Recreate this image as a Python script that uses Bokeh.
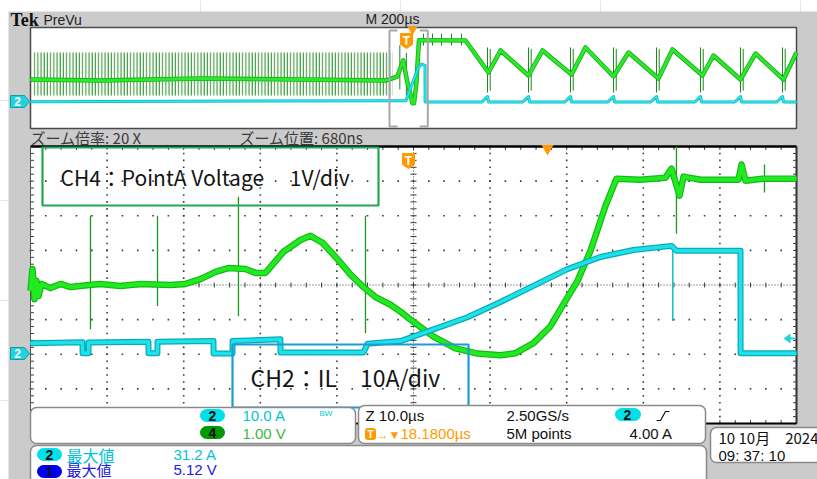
import numpy as np
from bokeh.plotting import figure
from bokeh.models import Range1d, BoxAnnotation
from bokeh.core.properties import value
from bokeh.embed import file_html
from bokeh.resources import INLINE

# ===================== data =====================
# Zoomed main window (Z 10.0 us/div): time in us from the left graticule edge
CH4_T = [0.0, 0.26, 0.52, 0.78, 1.04, 1.44, 2.61, 3.92, 5.22, 7.70, 9.14, 11.75,
         14.36, 18.28, 20.23, 22.19, 24.15, 25.85, 28.07, 29.37, 30.68, 33.03,
         35.25, 36.55, 38.12, 39.82, 41.78, 43.47, 45.04, 47.00, 48.30, 49.61,
         52.61, 55.48, 58.36, 61.36, 63.32, 65.67, 67.89, 69.58, 71.41, 73.11,
         75.07, 76.50, 79.63, 82.90, 83.68, 84.07, 84.73, 85.25, 87.47, 92.43,
         92.82, 93.34, 95.56, 100.0]
# CH4 point-A voltage, 1 V/div, in divisions from the centre line
CH4_DIV = [-0.17, 0.46, -0.41, 0.12, -0.32, 0.03, -0.09, 0.03, -0.06, 0.0, 0.03, -0.03,
           0.03, 0.0, 0.03, 0.17, 0.38, 0.49, 0.46, 0.35, 0.35, 0.96,
           1.30, 1.42, 1.22, 0.81, 0.30, -0.06, -0.35, -0.57, -0.77, -1.00,
           -1.49, -1.83, -1.98, -2.03, -1.97, -1.68, -1.19, -0.55, 0.12, 0.99,
           2.29, 3.07, 3.04, 3.10, 3.36, 3.07, 2.58, 3.13, 3.04, 3.04,
           3.48, 3.01, 3.07, 3.07]
CH4_SPIKE_T = [7.83, 16.58, 27.15, 43.73, 84.33, 95.82]
CH4_SPIKE_HI = [2.0, 2.0, 2.55, 2.0, 4.0, 3.48]
CH4_SPIKE_LO = [-1.28, -0.61, -0.90, -1.39, 1.48, 2.67]

# CH2 inductor current IL, amps (10 A/div, ground at -2 div)
CH2_T = [0.0, 6.79, 6.80, 7.57, 7.58, 15.40, 15.41, 16.57, 16.58, 23.89, 23.90,
         26.37, 26.38, 32.63, 32.64, 43.47, 44.00, 48.30, 52.61, 57.05, 61.36,
         66.97, 70.10, 74.41, 78.72, 83.68, 84.33, 92.69, 92.70, 100.0]
CH2_A = [3.2, 3.5, 0.3, 0.3, 3.4, 3.6, 0.3, 0.3, 3.6, 3.8, 0.2,
         0.2, 3.8, 4.3, 0.5, 0.5, 3.0, 3.8, 7.2, 10.7, 15.1,
         21.2, 24.6, 28.1, 30.1, 31.3, 29.9, 29.9, 0.3, 0.3]
CH2_SPIKE_T = [83.85]
CH2_SPIKE_HI = [31.0]
CH2_SPIKE_LO = [9.6]

# PreVu window (M 200 us/div): time in us relative to the zoom window start
PV_CH4_T = [-937.3, -754.6, -493.5, -232.4, -10.4, 0.0, 20.0, 36.0, 45.0, 60.0, 64.0, 70.0, 77.0, 198.4,
            258.5, 289.8, 362.9, 399.5, 475.2, 511.7, 584.9, 624.0, 702.3, 738.9,
            817.2, 845.9, 916.4, 955.6, 1028.7, 1062.7]
PV_CH4_DIV = [-0.12, -0.20, -0.04, -0.12, -0.20, -0.10, 0.10, 1.40, -0.10, -2.00, -2.00, -0.50, 3.00, 2.97,
              0.44, 2.18, 0.20, 2.18, 0.28, 2.42, 0.12, 2.02, -0.04, 2.26,
              0.20, 1.78, -0.12, 1.94, -0.12, 2.02]
PV_CH4_SPIKE_T = [27.0, 44.0, 88.8, 112.3, 135.8, 161.9, 188.0,
                  255.9, 263.0, 362.9, 370.0, 472.6, 479.7, 584.9, 592.0,
                  697.1, 704.2, 812.0, 819.1, 916.4, 923.5, 1026.1, 1033.2]
PV_CH4_SPIKE_HI = [2.6, 2.0, 3.52, 3.52, 3.52, 3.52, 3.52,
                   2.42, 2.3, 2.42, 2.3, 2.42, 2.3, 2.42, 2.3,
                   2.42, 2.3, 2.42, 2.3, 2.42, 2.3, 2.42, 2.3]
PV_CH4_SPIKE_LO = [-0.9, -1.4, 2.57, 2.57, 2.57, 2.57, 2.57,
                   -1.15, -1.0, -1.15, -1.0, -1.15, -1.0, -1.15, -1.0,
                   -1.15, -1.0, -1.15, -1.0, -1.15, -1.0, -1.15, -1.0]
# pre-trigger switching burst in PreVu (time span and amplitude, divisions)
PV_BURST_T = [-929.5, 7.8]
PV_BURST_DIV = [-1.39, 2.02]

PV_CH2_T = [-937.3, 0.0, 43.0, 60.0, 75.0, 84.0, 92.7, 93.0,
            240.9, 255.9, 258.9, 347.9, 362.9, 365.9, 457.6, 472.6, 475.6,
            569.9, 584.9, 587.9, 682.1, 697.1, 700.1, 797.0, 812.0, 815.0,
            901.4, 916.4, 919.4, 1011.1, 1026.1, 1029.1, 1062.7]
PV_CH2_A = [1.2, 2.0, 2.0, 16.0, 28.0, 31.0, 30.0, 1.0,
            1.0, 5.3, 1.0, 1.0, 5.3, 1.0, 1.0, 5.3, 1.0,
            1.0, 5.3, 1.0, 1.0, 5.3, 1.0, 1.0, 5.3, 1.0,
            1.0, 5.3, 1.0, 1.0, 5.3, 1.0, 1.0]

# ===================== layout (screen pixels of the 817x479 window) =====================
CW, CH = 817, 479
GRAY = "#cbcbcb"
M_L, M_R, M_T, M_B = 30, 796, 146, 423      # main graticule
P_L, P_R, P_T, P_B = 30, 796, 27, 128       # PreVu graticule
P_ZOOM_PX = 389                              # zoom window start inside PreVu
PV_T_LEFT = -(P_ZOOM_PX - P_L) * 2000.0 / (P_R - P_L)

FONT = value("Liberation Sans")
JP = value("Noto Sans CJK JP")

p = figure(width=CW, height=CH, x_range=Range1d(0, CW), y_range=Range1d(CH, 0),
           output_backend="svg", toolbar_location=None, min_border=0,
           x_axis_location=None, y_axis_location=None)
p.outline_line_color = None
p.background_fill_color = "white"
p.border_fill_color = "white"


def axis_range(px0, px1, v0, v1, c0, c1):
    k = (v1 - v0) / (px1 - px0)
    return Range1d(v0 + (c0 - px0) * k, v0 + (c1 - px0) * k)


p.extra_x_ranges = {
    "mt": axis_range(M_L, M_R, 0.0, 100.0, 0, CW),
    "pt": axis_range(P_L, P_R, PV_T_LEFT, PV_T_LEFT + 2000.0, 0, CW),
}
p.extra_y_ranges = {
    "md": axis_range(M_T, M_B, 4.0, -4.0, CH, 0),
    "ma": axis_range(M_T, M_B, 60.0, -20.0, CH, 0),
    "pd": axis_range(P_T, P_B, 4.0, -4.0, CH, 0),
    "pa": axis_range(P_T, P_B, 60.0, -20.0, CH, 0),
}
MAIN = dict(x_range_name="mt", y_range_name="md")
MAINA = dict(x_range_name="mt", y_range_name="ma")
PV = dict(x_range_name="pt", y_range_name="pd")
PVA = dict(x_range_name="pt", y_range_name="pa")


def txt(x, y, s, color="#111111", size=15, font=FONT, align="left", bold=False, level="overlay"):
    p.text(x=[x], y=[y], text=[s], text_color=color, text_font=font,
           text_font_size=f"{size}px", text_align=align, text_baseline="middle",
           text_font_style="bold" if bold else "normal", level=level)


def rbox(l, r, t, b, fill="white", line="#8a8a8a", lw=1.5, radius=6, fill_alpha=1.0, line_alpha=1.0):
    p.add_layout(BoxAnnotation(left=l, right=r, top=t, bottom=b, fill_color=fill,
                               fill_alpha=fill_alpha, line_color=line, line_alpha=line_alpha,
                               line_width=lw, border_radius=radius))


# background
p.quad(left=8, right=CW, top=11, bottom=CH, fill_color=GRAY, line_color=None)

# ---------- PreVu ----------
p.quad(left=PV_T_LEFT, right=PV_T_LEFT + 2000, top=4, bottom=-4, fill_color="white",
       line_color="#4a4a4a", line_width=1.5, **PV)
p.quad(left=[PV_BURST_T[0]], right=[PV_BURST_T[1]], top=[PV_BURST_DIV[1]], bottom=[PV_BURST_DIV[0]],
       fill_alpha=0, line_color=None, hatch_pattern="vertical_line", hatch_scale=3.2,
       hatch_weight=1, hatch_color="#1f8f1f", **PV)
p.segment(x0=PV_CH4_SPIKE_T, y0=PV_CH4_SPIKE_LO, x1=PV_CH4_SPIKE_T, y1=PV_CH4_SPIKE_HI,
          line_color="#1a8a1a", line_width=1, **PV)
p.line(PV_CH4_T, PV_CH4_DIV, line_color="#15b015", line_width=4.5, line_join="round", **PV)
p.line(PV_CH4_T, PV_CH4_DIV, line_color="#2ee82e", line_width=2.8, line_join="round", **PV)
p.line(PV_CH2_T, PV_CH2_A, line_color="#00b8c4", line_width=3, line_join="round", **PVA)
p.line(PV_CH2_T, PV_CH2_A, line_color="#30e6ee", line_width=1.5, line_join="round", **PVA)
# zoom bracket
p.multi_line(xs=[[21, 0, 0, 21], [79, 100, 100, 79]], ys=[[30, 30, 126, 126], [30, 30, 126, 126]],
             line_color="#a8a8a8", line_width=2, x_range_name="pt")

# ---------- main graticule ----------
p.quad(left=0, right=100, top=4, bottom=-4, fill_color="white", line_color=None, **MAIN)
gx, gy = [], []
for c in range(1, 10):
    if c == 5:
        continue
    for k in range(41):
        gx.append(c * 10.0)
        gy.append(-4 + k * 0.2)
for r in range(-3, 4):
    if r == 0:
        continue
    for k in range(51):
        gx.append(k * 2.0)
        gy.append(float(r))
p.scatter(gx, gy, marker="square", size=1.6, color="#3a3a3a", line_color=None, **MAIN)
p.segment(x0=[0, 50], y0=[0, -4], x1=[100, 50], y1=[0, 4], line_color="#3a3a3a",
          line_width=1, line_dash="1 2", **MAIN)
tt = [k * 2.0 for k in range(51)]
tv = [-4 + k * 0.2 for k in range(41)]
p.segment(x0=tt, y0=[-0.07] * 51, x1=tt, y1=[0.07] * 51, line_color="#3a3a3a", **MAIN)
p.segment(x0=[49.6] * 41, y0=tv, x1=[50.4] * 41, y1=tv, line_color="#3a3a3a", **MAIN)
p.segment(x0=[0] * 41, y0=tv, x1=[0.45] * 41, y1=tv, line_color="#3a3a3a", **MAIN)
p.segment(x0=[99.55] * 41, y0=tv, x1=[100] * 41, y1=tv, line_color="#3a3a3a", **MAIN)
p.segment(x0=tt, y0=[4] * 51, x1=tt, y1=[3.9] * 51, line_color="#3a3a3a", **MAIN)
p.segment(x0=tt, y0=[-4] * 51, x1=tt, y1=[-3.9] * 51, line_color="#3a3a3a", **MAIN)
# graticule border: top, left, right, bottom
p.segment(x0=[0, 0, 100, 0], y0=[4, -4, -4, -4], x1=[100, 0, 100, 100], y1=[4, 4, 4, -4],
          line_color=["#000000", "#555555", "#333333", "#000000"],
          line_width=[2.5, 1, 2, 2], **MAIN)

# ---------- main traces ----------
p.segment(x0=CH4_SPIKE_T, y0=CH4_SPIKE_LO, x1=CH4_SPIKE_T, y1=CH4_SPIKE_HI,
          line_color="#1a9a1a", line_width=1.3, **MAIN)
p.line(CH4_T, CH4_DIV, line_color="#14b814", line_width=6.5, line_join="round", **MAIN)
p.line(CH4_T, CH4_DIV, line_color="#22ea22", line_width=4.2, line_join="round", **MAIN)
p.segment(x0=CH2_SPIKE_T, y0=CH2_SPIKE_LO, x1=CH2_SPIKE_T, y1=CH2_SPIKE_HI,
          line_color="#10c0c8", line_width=1.5, **MAINA)
p.line(CH2_T, CH2_A, line_color="#0aaab4", line_width=6, line_join="round", **MAINA)
p.line(CH2_T, CH2_A, line_color="#1ee2ea", line_width=3.5, line_join="round", **MAINA)

# ---------- markers ----------
ORANGE = "#ff9a00"
for (cx, cy) in [(406, 33), (408, 153)]:
    p.patch([cx - 6, cx + 6, cx + 6, cx, cx - 6], [cy, cy, cy + 11, cy + 15, cy + 11],
            fill_color=ORANGE, line_color=ORANGE, line_width=1)
    txt(cx, cy + 7, "T", color="white", size=12, bold=True, align="center", level="glyph")
p.scatter([412, 547], [29, 148], marker="inverted_triangle", size=[10, 12],
          fill_color=ORANGE, line_color=None)
for cy in [101, 353]:
    p.patch([10, 24, 29, 24, 10], [cy - 6, cy - 6, cy, cy + 6, cy + 6],
            fill_color="#22d2de", line_color="#0aa0a8", line_width=1)
    txt(17, cy, "2", color="white", size=12, bold=True, align="center", level="glyph")
p.patch([783, 790, 790], [338, 333, 343], fill_color="#22d2de", line_color=None)
p.segment(x0=[789], y0=[338], x1=[795], y1=[338], line_color="#22d2de", line_width=2)

# ---------- top texts ----------
txt(10, 19, "Tek", size=18, font=value("Liberation Serif"), bold=True)
txt(43, 19, "PreVu", size=14, color="#222222")
txt(365, 18, "M 200µs", size=14, color="#222222")
txt(30, 137, "ズーム倍率: 20 X", size=15, font=JP, color="#3a3a3a")
txt(239, 137, "ズーム位置: 680ns", size=15, font=JP, color="#3a3a3a")

# ---------- annotation boxes ----------
rbox(42, 378, 147, 205, line="#1fa855", lw=2.2, radius=0, fill_alpha=0.0)
txt(60, 176, "CH4：PointA Voltage　 1V/div", size=21, font=JP, color="#151515")
rbox(232, 468, 344, 407, line="#1e9ad6", lw=2.2, radius=0, fill_alpha=0.0)
txt(250, 376, "CH2：IL　10A/div", size=23, font=JP, color="#151515")

# ---------- bottom panels ----------
rbox(30, 355, 407, 443)
rbox(358, 705, 405, 443)
rbox(710, 840, 427, 462)
rbox(30, 706, 445, 495)
CYAN_T = "#00c4d4"
rbox(200, 224, 409, 421, fill="#00e0e8", line="#00e0e8", lw=1, radius=6)
txt(212, 415, "2", size=14, bold=True, align="center")
rbox(200, 224, 426, 438, fill="#009a00", line="#009a00", lw=1, radius=6)
txt(212, 432, "4", size=14, bold=True, align="center")
txt(242, 415, "10.0 A", color=CYAN_T)
txt(319, 413, "BW", size=8, color=CYAN_T)
txt(242, 433, "1.00 V", color="#3cb83c")

txt(365, 415, "Z 10.0µs")
rbox(365, 375, 428, 439, fill=ORANGE, line=ORANGE, lw=1, radius=2)
txt(370, 434, "T", size=10, bold=True, color="white", align="center")
txt(376, 434, "→▼", size=12, color=ORANGE)
txt(400, 433, "18.1800µs", color=ORANGE)
txt(506, 415, "2.50GS/s")
txt(506, 433, "5M points")
rbox(615, 640, 408, 420, fill="#00e0e8", line="#00e0e8", lw=1, radius=6)
txt(627, 414, "2", size=14, bold=True, align="center")
p.line([656, 660, 665, 669], [420, 420, 411, 411], line_color="#111111", line_width=1.2, level="overlay")
txt(629, 433, "4.00 A")

txt(718, 437, "10 10月　2024", font=JP, size=15)
txt(718, 455, "09: 37: 10", size=15)

rbox(37, 61, 448, 460, fill="#00e0e8", line="#00e0e8", lw=1, radius=6)
txt(49, 454, "2", size=14, bold=True, align="center")
rbox(37, 61, 465, 477, fill="#0000ee", line="#0000ee", lw=1, radius=6)
txt(49, 471, "1", size=13, bold=True, align="center")
txt(66, 454, "最大値", font=JP, size=16, color=CYAN_T)
txt(173, 454, "31.2 A", color=CYAN_T)
txt(66, 469, "最大値", font=JP, size=15, color="#2020e0")
txt(173, 469, "5.12 V", color="#2020e0")

open("out.html", "w").write(file_html(p, INLINE))
